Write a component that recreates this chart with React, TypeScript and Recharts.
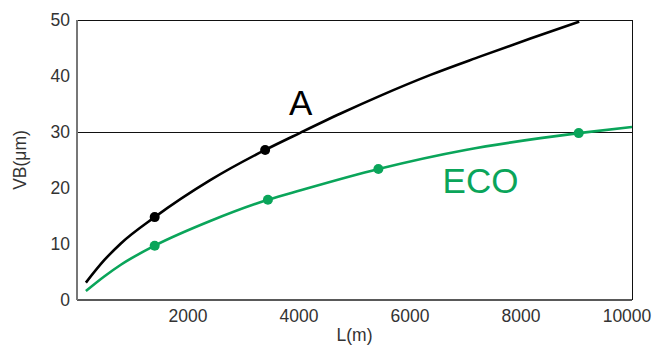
import {
  ComposedChart,
  Line,
  XAxis,
  YAxis,
  ReferenceLine,
  ReferenceDot,
} from "recharts";

// curve A (black)
const A_L = [160, 490, 790, 1400, 2400, 3390, 4030, 4750, 5470, 6370, 7270, 8170, 9050];
const A_VB = [3.1, 7.1, 10.1, 14.8, 21.4, 26.8, 29.9, 33.3, 36.5, 40.2, 43.5, 46.7, 49.7];
const A_MARK_L = [1400, 3390];
const A_MARK_VB = [14.8, 26.8];

// curve ECO (green)
const ECO_L = [160, 490, 790, 1400, 2400, 3440, 4030, 5430, 7000, 8350, 9040, 10000];
const ECO_VB = [1.6, 4.2, 6.3, 9.7, 14.1, 17.9, 19.6, 23.4, 26.8, 28.9, 29.8, 30.9];
const ECO_MARK_L = [1400, 3440, 5430, 9040];
const ECO_MARK_VB = [9.7, 17.9, 23.4, 29.8];

const X_TICKS = [2000, 4000, 6000, 8000, 10000];
const Y_TICKS = [0, 10, 20, 30, 40, 50];
const LIMIT_VB = 30;

const GREEN = "#0aa55a";
const FONT = "'Liberation Sans', Arial, Helvetica, sans-serif";

const rows = (ls: number[], vs: number[]) => ls.map((l, i) => ({ l, vb: vs[i] }));

// last label sits at the right edge, nudge it in a bit
function XTick(props: any) {
  const { x, y, payload } = props;
  const dx = payload.value === 10000 ? -5 : 0;
  return (
    <text
      x={x + dx}
      y={y}
      dy="0.71em"
      textAnchor="middle"
      fill="#333"
      fontSize={17.5}
      fontFamily={FONT}
    >
      {payload.value}
    </text>
  );
}

export default function App() {
  return (
    <div style={{ position: "absolute", left: 0, top: 0, fontFamily: FONT }}>
      <ComposedChart
        width={653}
        height={345}
        margin={{ top: 20, right: 21, bottom: 0, left: 0 }}
      >
        <XAxis
          type="number"
          dataKey="l"
          domain={[0, 10000]}
          ticks={X_TICKS}
          tick={<XTick />}
          tickLine={false}
          tickSize={0}
          tickMargin={10}
          height={45}
          axisLine={{ stroke: "#222", strokeWidth: 1.5 }}
          label={{
            value: "L(m)",
            position: "insideBottom",
            offset: 4,
            fill: "#333",
            fontSize: 17.5,
          }}
        />
        <YAxis
          type="number"
          dataKey="vb"
          domain={[0, 50]}
          ticks={Y_TICKS}
          tick={{ fill: "#333", fontSize: 17.5, fontFamily: FONT }}
          tickLine={false}
          tickSize={0}
          tickMargin={7}
          width={77}
          axisLine={{ stroke: "#777", strokeWidth: 2 }}
          label={{
            value: "VB(μm)",
            angle: -90,
            position: "insideLeft",
            offset: 20,
            fill: "#333",
            fontSize: 17.5,
            style: { textAnchor: "middle" },
          }}
        />
        <ReferenceLine y={50} stroke="#111" strokeWidth={1} shapeRendering="crispEdges" />
        <ReferenceLine x={10000} stroke="#111" strokeWidth={1} shapeRendering="crispEdges" />
        <ReferenceLine y={LIMIT_VB} stroke="#111" strokeWidth={1} shapeRendering="crispEdges" />

        <Line
          data={rows(A_L, A_VB)}
          dataKey="vb"
          type="monotone"
          stroke="#000"
          strokeWidth={2.6}
          dot={false}
          isAnimationActive={false}
        />
        <Line
          data={rows(ECO_L, ECO_VB)}
          dataKey="vb"
          type="monotone"
          stroke={GREEN}
          strokeWidth={2.6}
          dot={false}
          isAnimationActive={false}
        />
        <Line
          data={rows(A_MARK_L, A_MARK_VB)}
          dataKey="vb"
          stroke="none"
          dot={{ r: 5, fill: "#000", stroke: "none" }}
          isAnimationActive={false}
        />
        <Line
          data={rows(ECO_MARK_L, ECO_MARK_VB)}
          dataKey="vb"
          stroke="none"
          dot={{ r: 5, fill: GREEN, stroke: "none" }}
          isAnimationActive={false}
        />

        <ReferenceDot
          x={4030}
          y={35.2}
          r={0}
          fill="none"
          stroke="none"
          label={{ value: "A", position: "center", fontSize: 35, fill: "#000" }}
        />
        <ReferenceDot
          x={7270}
          y={21.3}
          r={0}
          fill="none"
          stroke="none"
          label={{ value: "ECO", position: "center", fontSize: 35, fill: GREEN }}
        />
      </ComposedChart>
    </div>
  );
}
